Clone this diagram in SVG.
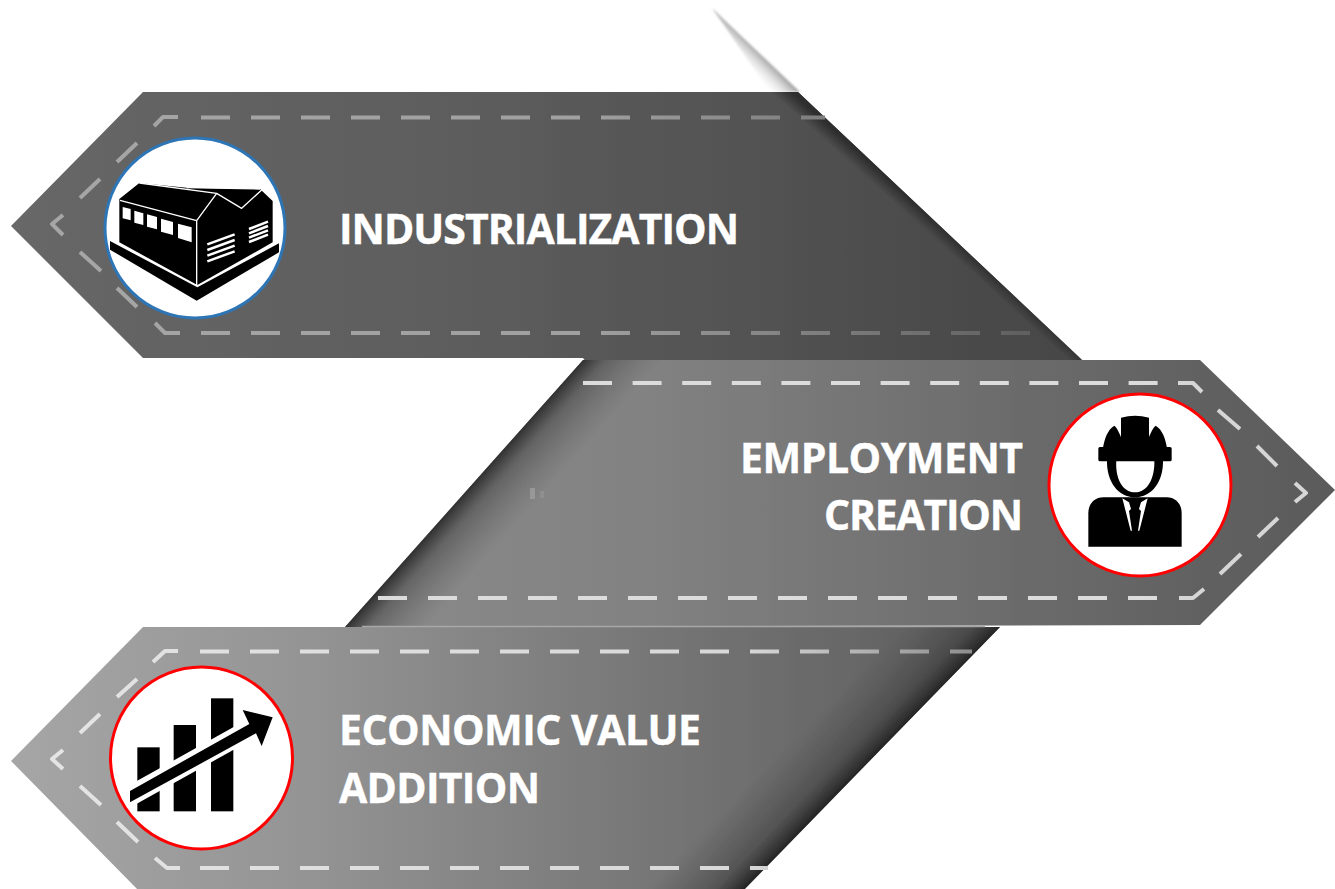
<svg xmlns="http://www.w3.org/2000/svg" width="1335" height="889" viewBox="0 0 1335 889">
<defs>
<linearGradient id="g1" gradientUnits="userSpaceOnUse" x1="10" y1="0" x2="1080" y2="0"><stop offset="0" stop-color="#676767"/><stop offset="0.45" stop-color="#5c5c5c"/><stop offset="1" stop-color="#464646"/></linearGradient>
<linearGradient id="g2" gradientUnits="userSpaceOnUse" x1="345" y1="0" x2="1335" y2="0"><stop offset="0" stop-color="#8a8a8a"/><stop offset="0.3" stop-color="#828282"/><stop offset="0.7" stop-color="#6a6a6a"/><stop offset="1" stop-color="#5a5a5a"/></linearGradient>
<linearGradient id="g3" gradientUnits="userSpaceOnUse" x1="10" y1="0" x2="1000" y2="0"><stop offset="0" stop-color="#a6a6a6"/><stop offset="0.3" stop-color="#949494"/><stop offset="0.7" stop-color="#727272"/><stop offset="1" stop-color="#5c5c5c"/></linearGradient>
<linearGradient id="s1" gradientUnits="userSpaceOnUse" x1="939" y1="225" x2="930" y2="235"><stop offset="0" stop-color="#2e2e2e"/><stop offset="1" stop-color="#2e2e2e" stop-opacity="0"/></linearGradient>
<linearGradient id="s2" gradientUnits="userSpaceOnUse" x1="464" y1="493" x2="509" y2="533"><stop offset="0" stop-color="#2a2a2a" stop-opacity=".95"/><stop offset="0.3" stop-color="#3a3a3a" stop-opacity=".45"/><stop offset="1" stop-color="#555" stop-opacity="0"/></linearGradient>
<linearGradient id="s3" gradientUnits="userSpaceOnUse" x1="872" y1="758" x2="822" y2="709"><stop offset="0" stop-color="#222" stop-opacity=".95"/><stop offset="0.3" stop-color="#333" stop-opacity=".45"/><stop offset="1" stop-color="#444" stop-opacity="0"/></linearGradient>
<linearGradient id="flap" gradientUnits="userSpaceOnUse" x1="757" y1="50" x2="741" y2="66"><stop offset="0" stop-color="#a4a4a4"/><stop offset="1" stop-color="#fff" stop-opacity="0"/></linearGradient>
<linearGradient id="d1" gradientUnits="userSpaceOnUse" x1="40" y1="0" x2="1040" y2="0"><stop offset="0" stop-color="#a6a6a6"/><stop offset="0.55" stop-color="#a0a0a0"/><stop offset="1" stop-color="#5e5e5e"/></linearGradient>
<linearGradient id="d3" gradientUnits="userSpaceOnUse" x1="40" y1="0" x2="980" y2="0"><stop offset="0" stop-color="#e4e4e4"/><stop offset="0.75" stop-color="#d8d8d8"/><stop offset="1" stop-color="#8c8c8c"/></linearGradient>
<filter id="soft" x="-5%" y="-5%" width="110%" height="110%"><feGaussianBlur stdDeviation="0.7"/></filter>
<filter id="softer" x="-30%" y="-30%" width="160%" height="160%"><feGaussianBlur stdDeviation="1"/></filter>
</defs>
<style>
.dash{fill:none;stroke-width:4;stroke-linecap:butt;stroke-linejoin:round}
.lab{font-family:"Open Sans","Liberation Sans",sans-serif;font-weight:700;font-size:41px;fill:#fff;stroke:#fff;stroke-width:.4}
.disc{fill:#fff;stroke-width:3}
.ink{fill:#000}
.wht{fill:#fff}
.wl{fill:none;stroke:#fff;stroke-width:4;stroke-linejoin:round}
</style>
<rect width="1335" height="889" fill="#fff"/>
<g id="flap-shadow"><polygon points="712,8 800,92 770,92" fill="url(#flap)" filter="url(#softer)"/></g>

<g id="band-industrialization">
<g filter="url(#soft)">
<polygon points="11,226 143,92 798,92 1080,358 1084,362 586,362 583,358 143,358" fill="url(#g1)"/>
<polygon points="11,226 143,92 798,92 1080,358 1084,362 586,362 583,358 143,358" fill="url(#s1)"/>
<path class="dash" stroke="url(#d1)" d="M154,126L163,117H178M117,162L137,143M80,198L100,179M63,215L52,224L63,235M80,252L101,271M117,288L137,307M155,323L165,333H180"/>
<path class="dash" stroke="url(#d1)" stroke-dasharray="29 21" d="M201,117.500H825M201,333H1035"/>
</g>
</g>

<g id="band-employment">
<g filter="url(#soft)">
<polygon points="583,360 1200,360 1335,490 1200,625 345,627" fill="url(#g2)"/>
<polygon points="583,360 1200,360 1335,490 1200,625 345,627" fill="url(#s2)"/>
<rect x="530" y="488" width="5" height="11" fill="#a2a2a2" opacity=".7"/><rect x="540" y="491" width="4" height="7" fill="#999" opacity=".5"/>
<path class="dash" stroke="#d6d6d6" d="M1178,383H1193L1202,392M1218,410L1240,429M1257,446L1277,466M1295,483L1306,493L1295,502M1258,537L1278,518M1220,574L1241,554M1179,598H1193L1204,589"/>
<path class="dash" stroke="#dcdcdc" stroke-dasharray="29 20.600" d="M583,383H1158"/>
<path class="dash" stroke="#dcdcdc" stroke-dasharray="29 21" d="M378,598H1158"/>
</g>
</g>

<g id="band-value">
<g filter="url(#soft)">
<polygon points="11,761 143,627 1000,627 739,895 143,895" fill="url(#g3)"/>
<polygon points="11,761 143,627 1000,627 739,895 143,895" fill="url(#s3)"/>
<path class="dash" stroke="url(#d3)" d="M153,662L165,651H178M117,697L137,679M80,733L100,714M63,750L52,759L63,769M80,786L101,805M117,822L138,842M155,858L167,868H180"/>
<path class="dash" stroke="url(#d3)" stroke-dasharray="29 21" d="M200,651.500H972M200,868H768"/>
<path d="M362,626.500H985" stroke="#a8a8a8" stroke-width="1.500" fill="none"/>
</g>
</g>

<g id="node-industrialization">
<circle class="disc" cx="195" cy="228" r="90" stroke="#2e75b6"/>
<g transform="translate(90 125) scale(.33333)">
<polygon class="ink" points="60,348 60,374 320,527 567,382 567,355 322,487"/>
<polygon class="ink" points="88,222 148,174 290,188 510,192 548,228 548,352 322,480 88,352"/>
<path class="wl" d="M90,226L320,287L380,205L455,250L515,195M320,287V480M148,174L380,205M290,188L510,192"/>
<polygon class="wht" points="98,246 122,252 122,286 98,280"/>
<polygon class="wht" points="133,257 160,265 160,300 133,293"/>
<polygon class="wht" points="171,268 201,276 201,313 171,305"/>
<polygon class="wht" points="213,281 249,291 249,330 213,320"/>
<polygon class="wht" points="264,296 305,307 305,352 264,339"/>
<g fill="none" stroke="#fff" stroke-width="7.500"><path d="M352,358L434,328M352,375L434,345M352,392L434,362M352,409L434,379"/><path d="M477,312L534,290M477,325L534,303M477,338L534,316M477,351L534,329"/></g>
</g>
<text class="lab" x="339" y="244" textLength="400">INDUSTRIALIZATION</text>
</g>

<g id="node-employment">
<circle class="disc" cx="1140" cy="485" r="91" stroke="#f00"/>
<g transform="translate(1035 385) scale(.33333)">
<path class="ink" d="M258,98Q300,86 342,98V195H258Z"/>
<path class="ink" d="M238,122C247,128 253,145 262,165V195H203C208,160 218,134 238,122Z"/>
<path class="ink" d="M362,122C353,128 347,145 338,165V195H397C392,160 382,134 362,122Z"/>
<rect class="ink" x="190" y="186" width="220" height="43" rx="5"/>
<path class="ink" d="M216,225C214,290 250,337 300,337C350,337 386,290 384,225H358C360,280 338,322 300,322C262,322 240,280 244,225Z"/>
<path class="ink" d="M160,485V385C160,355 180,337 205,337H395C420,337 440,355 440,385V485Z"/>
<polygon class="wht" points="262,340 282,352 288,372 282,378 291,437 287,437"/>
<polygon class="wht" points="338,340 318,352 312,372 318,378 309,437 313,437"/>
</g>
<text class="lab" x="1023" y="473" text-anchor="end" textLength="283">EMPLOYMENT</text>
<text class="lab" x="1023" y="530" text-anchor="end" textLength="199">CREATION</text>
</g>

<g id="node-value">
<circle class="disc" cx="201.500" cy="758" r="91" stroke="#f00"/>
<g transform="translate(95 655) scale(.33333)">
<rect class="ink" x="127" y="277" width="67" height="192"/>
<rect class="ink" x="236" y="210" width="67" height="259"/>
<rect class="ink" x="348" y="130" width="67" height="339"/>
<polygon class="wht" points="120,381 420,214 420,282 120,449"/>
<polygon class="ink" points="105,408 463,207 443,165 533,187 500,273 483,235 105,442"/>
</g>
<text class="lab" x="339" y="745" textLength="362">ECONOMIC VALUE</text>
<text class="lab" x="339" y="803" textLength="201">ADDITION</text>
</g>
<g id="connectors"/>
</svg>
